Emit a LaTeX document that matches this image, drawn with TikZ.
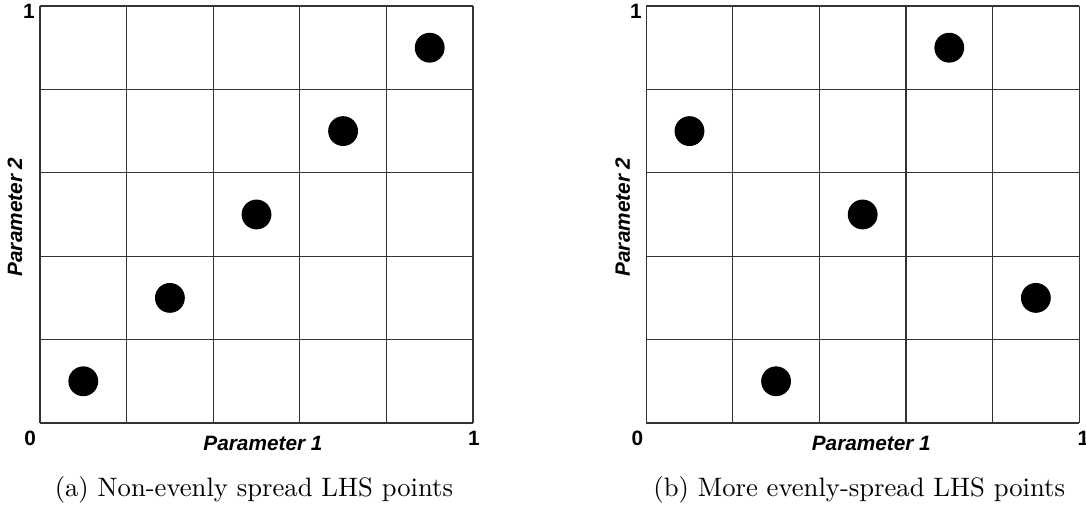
\documentclass[tikz,border=0pt]{standalone}
\usepackage{fontspec}
\usepackage{tikz}
\newfontfamily\axisfont{Liberation Sans}

\begin{document}
\begin{tikzpicture}[
    x=32.5pt, y=31.3pt,
    cell/.style={draw=black!80, line width=0.45pt},
    pt/.style={circle, fill=black, inner sep=0pt, minimum size=11.2pt},
    tick/.style={font=\axisfont\fontsize{7.8}{9}\selectfont\bfseries, inner sep=0pt},
    axis/.style={font=\axisfont\fontsize{7.8}{9}\selectfont\bfseries\itshape, inner sep=0pt},
    caption/.style={inner sep=0pt}
]
\useasboundingbox (-0.462,-1.091) rectangle (12.079,5.072);

% (a) points along the diagonal
\begin{scope}
\foreach \k in {0,...,5} {
    \draw[cell] (\k,0) -- (\k,5);
    \draw[cell] (0,\k) -- (5,\k);
}
\foreach \c/\r [count=\i] in {0/0,1/1,2/2,3/3,4/4}
    \node[pt] (a\i) at (\c+0.5,\r+0.5) {};
\node[tick] (a0) at (-0.115,-0.18) {0};
\node[tick] (ax1) at (5.01,-0.18) {1};
\node[tick] (ay1) at (-0.127,4.93) {1};
\node[axis] (ax) at (2.575,-0.24) {Parameter 1};
\node[axis, rotate=90] (ay) at (-0.29,2.47) {Parameter 2};
\node[caption] (capa) at (2.47,-0.80) {(a) Non-evenly spread LHS points};
\end{scope}

% (b) one point per row and column, spread out
\begin{scope}[xshift=7*32.5pt]
\foreach \k in {0,...,5} {
    \draw[cell] (\k,0) -- (\k,5);
    \draw[cell] (0,\k) -- (5,\k);
}
\foreach \c/\r [count=\i] in {0/3,1/0,2/2,3/4,4/1}
    \node[pt] (b\i) at (\c+0.5,\r+0.5) {};
\node[tick] (b0) at (-0.1,-0.18) {0};
\node[tick] (bx1) at (5.05,-0.18) {1};
\node[tick] (by1) at (-0.12,4.93) {1};
\node[axis] (bx) at (2.6,-0.24) {Parameter 1};
\node[axis, rotate=90] (by) at (-0.27,2.47) {Parameter 2};
\node[caption] (capb) at (2.46,-0.80) {(b) More evenly-spread LHS points};
\end{scope}
\end{tikzpicture}
\end{document}
